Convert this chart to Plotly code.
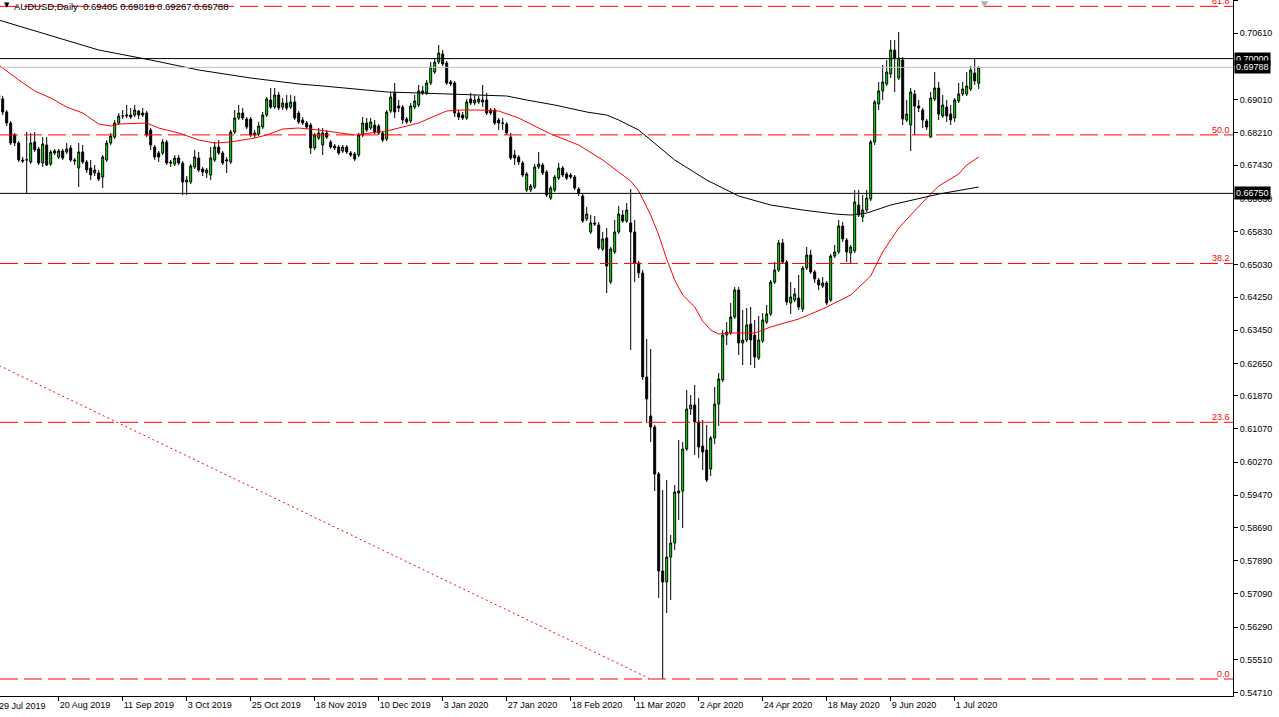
import plotly.graph_objects as go

# ---------------- data (AUDUSD daily, bar index 0 = 29 Jul 2019) ----------------
bar_index = list(range(1, 247))

opens = [
0.69122,0.69026,0.68712,0.68447,0.68157,0.67965,0.67555,0.67555,0.67507,0.67989,
0.67820,0.67483,0.67916,0.67459,0.67772,0.67627,0.67772,0.67748,0.67844,0.67555,
0.67362,0.67748,0.67507,0.67362,0.67242,0.67242,0.67145,0.67555,0.67965,0.68109,
0.68447,0.68615,0.68615,0.68639,0.68639,0.68736,0.68688,0.68688,0.68278,0.67868,
0.67724,0.67724,0.67989,0.67507,0.67459,0.67603,0.67483,0.67024,0.67024,0.67386,
0.67603,0.67338,0.67242,0.67193,0.67555,0.67868,0.67724,0.67531,0.67507,0.68230,
0.68567,0.68688,0.68543,0.68543,0.68157,0.68182,0.68350,0.68639,0.69002,0.68832,
0.69122,0.68832,0.68930,0.68832,0.68954,0.68688,0.68519,0.68447,0.68398,0.67844,
0.68085,0.67916,0.68206,0.67989,0.67892,0.67868,0.67772,0.67868,0.67724,0.67700,
0.67675,0.68157,0.68447,0.68326,0.68398,0.68374,0.68206,0.68061,0.68736,0.69171,
0.68857,0.68832,0.68543,0.68495,0.68832,0.68881,0.69219,0.69171,0.69412,0.69677,
0.69918,0.70111,0.69894,0.69436,0.69412,0.68688,0.68639,0.68567,0.69026,0.68930,
0.68954,0.69002,0.69002,0.68760,0.68760,0.68519,0.68447,0.68423,0.68109,0.67675,
0.67627,0.67483,0.66831,0.66831,0.66903,0.67386,0.67434,0.67266,0.66638,0.66831,
0.67121,0.67362,0.67217,0.67193,0.67145,0.66855,0.66686,0.66132,0.65819,0.66036,
0.65988,0.65409,0.65674,0.64613,0.65337,0.65819,0.66228,0.66084,0.66036,0.65819,
0.65071,0.64830,0.62322,0.61381,0.61116,0.59983,0.57644,0.57379,0.57981,0.58319,
0.59525,0.59573,0.60586,0.61550,0.61646,0.61237,0.60658,0.60562,0.60103,0.60851,
0.61671,0.62250,0.63334,0.63383,0.63769,0.64420,0.63141,0.63214,0.63600,0.63334,
0.62780,0.63190,0.63648,0.63841,0.64613,0.64902,0.65554,0.65095,0.64107,0.64179,
0.64227,0.63962,0.64950,0.65264,0.64854,0.64661,0.64516,0.64589,0.64179,0.65240,
0.65337,0.65963,0.65626,0.65313,0.65361,0.66469,0.66180,0.66349,0.66614,0.67989,
0.68906,0.69219,0.69388,0.69629,0.70207,0.69532,0.69966,0.68519,0.68398,0.69147,
0.68857,0.68760,0.68495,0.68109,0.69026,0.69291,0.68615,0.68832,0.68664,0.68567,
0.68978,0.69147,0.69147,0.69267,0.69653,0.69405]

highs = [
0.69195,0.69098,0.68760,0.68495,0.68206,0.68013,0.67627,0.68230,0.68206,0.68230,
0.67868,0.68109,0.68109,0.67796,0.67820,0.67820,0.67820,0.67965,0.67916,0.67603,
0.67965,0.67916,0.67555,0.67555,0.67434,0.67314,0.67675,0.68037,0.68206,0.68519,
0.68688,0.68760,0.68881,0.68808,0.68881,0.68760,0.68808,0.68736,0.68326,0.67916,
0.67772,0.68061,0.68037,0.67555,0.67675,0.67675,0.67531,0.67169,0.67459,0.67796,
0.67748,0.67386,0.67362,0.67868,0.67989,0.68037,0.67772,0.67627,0.68278,0.68760,
0.68881,0.68808,0.68591,0.68591,0.68278,0.68471,0.68712,0.69074,0.69291,0.69291,
0.69195,0.69050,0.69122,0.69122,0.69098,0.68736,0.68591,0.68495,0.68447,0.68206,
0.68326,0.68326,0.68278,0.68037,0.67941,0.67916,0.67916,0.67916,0.67772,0.67748,
0.68206,0.68591,0.68567,0.68567,0.68519,0.68423,0.68254,0.68760,0.69195,0.69412,
0.69002,0.68881,0.68591,0.68930,0.69122,0.69364,0.69340,0.69484,0.69918,0.70014,
0.70328,0.70207,0.69942,0.69484,0.69460,0.68760,0.68712,0.69026,0.69171,0.69122,
0.69098,0.69364,0.69171,0.68808,0.68808,0.68567,0.68567,0.68471,0.68206,0.67796,
0.67675,0.67531,0.67266,0.66976,0.67459,0.67748,0.67483,0.67314,0.66927,0.67193,
0.67483,0.67410,0.67266,0.67242,0.67193,0.66903,0.66734,0.66421,0.66228,0.66204,
0.66060,0.65819,0.65915,0.65457,0.66108,0.66445,0.66349,0.66518,0.66855,0.66108,
0.65119,0.64902,0.63238,0.62997,0.61165,0.60031,0.59597,0.59838,0.58512,0.59718,
0.60803,0.60755,0.62009,0.61888,0.62129,0.61815,0.61285,0.61165,0.60899,0.62081,
0.62419,0.63455,0.63648,0.64107,0.64492,0.64492,0.63938,0.63986,0.64010,0.63697,
0.63793,0.63865,0.64058,0.64661,0.65095,0.65626,0.65650,0.65143,0.64613,0.64468,
0.64782,0.64998,0.65457,0.65385,0.64902,0.64709,0.64733,0.64637,0.65289,0.65505,
0.66108,0.66060,0.65674,0.65505,0.66831,0.66831,0.66710,0.66831,0.68037,0.69002,
0.69436,0.69846,0.69966,0.70448,0.70448,0.70642,0.70038,0.69002,0.69291,0.69243,
0.69002,0.68808,0.68543,0.69195,0.69677,0.69436,0.69122,0.69002,0.68881,0.69050,
0.69412,0.69436,0.69677,0.69821,0.70014,0.69818]

lows = [
0.68906,0.68639,0.68374,0.67916,0.67892,0.67507,0.67483,0.66759,0.67459,0.67748,
0.67434,0.67386,0.67410,0.67410,0.67675,0.67579,0.67555,0.67700,0.67507,0.67434,
0.66903,0.67459,0.67242,0.67072,0.67169,0.67048,0.66879,0.67507,0.67916,0.68061,
0.68398,0.68543,0.68567,0.68543,0.68591,0.68543,0.68591,0.68109,0.67796,0.67555,
0.67507,0.67675,0.67434,0.67386,0.67410,0.67434,0.66710,0.66710,0.66976,0.67338,
0.67266,0.67169,0.67121,0.67072,0.67507,0.67675,0.67434,0.67242,0.67459,0.68182,
0.68519,0.68519,0.68302,0.68109,0.68085,0.68133,0.68302,0.68591,0.68784,0.68784,
0.68760,0.68760,0.68760,0.68784,0.68519,0.68423,0.68398,0.68302,0.67700,0.67796,
0.68037,0.67675,0.68061,0.67820,0.67796,0.67675,0.67724,0.67700,0.67627,0.67531,
0.67627,0.68109,0.68230,0.68278,0.68182,0.68157,0.67989,0.68013,0.68688,0.68567,
0.68712,0.68423,0.68423,0.68447,0.68784,0.68832,0.69122,0.69122,0.69364,0.69629,
0.69870,0.69821,0.69364,0.69340,0.68591,0.68519,0.68519,0.68519,0.68881,0.68881,
0.68906,0.68832,0.68639,0.68639,0.68398,0.68278,0.68278,0.68157,0.67555,0.67434,
0.67434,0.67145,0.66783,0.66783,0.66855,0.67338,0.67193,0.66662,0.66590,0.66783,
0.67072,0.67145,0.67072,0.67097,0.66831,0.66686,0.66036,0.66084,0.65771,0.65963,
0.65385,0.65361,0.64348,0.64565,0.65289,0.65771,0.66036,0.66036,0.62973,0.64613,
0.64709,0.62250,0.61213,0.60755,0.59573,0.56993,0.55039,0.56631,0.56945,0.58150,
0.58874,0.58681,0.60538,0.61406,0.60441,0.60369,0.60079,0.59790,0.59935,0.60707,
0.61141,0.62202,0.63093,0.63334,0.63721,0.62852,0.62611,0.63166,0.62611,0.62539,
0.62732,0.63141,0.63600,0.63793,0.64565,0.64854,0.65047,0.64058,0.63841,0.64131,
0.63938,0.63890,0.64902,0.64806,0.64589,0.64420,0.64468,0.64058,0.64131,0.65192,
0.65289,0.65578,0.65095,0.65047,0.65313,0.66180,0.66060,0.66300,0.66566,0.67916,
0.68760,0.69002,0.69340,0.69532,0.69195,0.69484,0.68398,0.68471,0.67772,0.68157,
0.68712,0.68326,0.68278,0.68085,0.68978,0.68519,0.68567,0.68471,0.68398,0.68471,
0.68930,0.69098,0.69098,0.69219,0.69364,0.69267]

closes = [
0.69002,0.68712,0.68447,0.67965,0.67965,0.67555,0.67531,0.67560,0.67965,0.67796,
0.67483,0.67941,0.67434,0.67748,0.67724,0.67772,0.67603,0.67820,0.67555,0.67531,
0.67748,0.67507,0.67314,0.67193,0.67314,0.67097,0.67627,0.67965,0.68133,0.68447,
0.68615,0.68620,0.68639,0.68591,0.68760,0.68639,0.68639,0.68157,0.67916,0.67627,
0.67627,0.67989,0.67483,0.67483,0.67603,0.67483,0.67024,0.67072,0.67410,0.67627,
0.67314,0.67266,0.67314,0.67603,0.67868,0.67724,0.67483,0.67555,0.68230,0.68567,
0.68688,0.68567,0.68350,0.68157,0.68206,0.68374,0.68639,0.69026,0.68832,0.69122,
0.68808,0.68930,0.68808,0.68954,0.68567,0.68471,0.68447,0.68350,0.67844,0.68157,
0.68206,0.68206,0.68109,0.67868,0.67844,0.67724,0.67868,0.67748,0.67675,0.67579,
0.68157,0.68447,0.68278,0.68471,0.68230,0.68206,0.68037,0.68712,0.69074,0.68712,
0.68808,0.68519,0.68471,0.68857,0.68978,0.69219,0.69171,0.69412,0.69797,0.69918,
0.70135,0.69870,0.69412,0.69388,0.68688,0.68591,0.68567,0.68954,0.68930,0.69002,
0.69026,0.68954,0.68688,0.68688,0.68447,0.68447,0.68440,0.68206,0.67603,0.67603,
0.67507,0.67193,0.67217,0.66927,0.67386,0.67459,0.67242,0.66710,0.66879,0.67145,
0.67362,0.67193,0.67121,0.67145,0.66879,0.66759,0.66084,0.66252,0.66036,0.66012,
0.65433,0.65650,0.64998,0.65409,0.65819,0.66252,0.66084,0.66349,0.65819,0.65071,
0.64830,0.62322,0.61791,0.61116,0.59983,0.57644,0.57379,0.57981,0.58319,0.59549,
0.59573,0.60586,0.61550,0.61646,0.61237,0.60634,0.60514,0.59838,0.60851,0.61671,
0.62274,0.63334,0.63407,0.63769,0.64420,0.63141,0.63214,0.63576,0.63214,0.62804,
0.63214,0.63697,0.63841,0.64613,0.64902,0.65554,0.65095,0.64131,0.64251,0.64324,
0.64010,0.64950,0.65264,0.64854,0.64685,0.64541,0.64589,0.64107,0.65240,0.65337,
0.65963,0.65650,0.65337,0.65457,0.66542,0.66228,0.66349,0.66638,0.67989,0.68954,
0.69219,0.69436,0.69677,0.70207,0.70014,0.70014,0.68543,0.68664,0.69195,0.68857,
0.68808,0.68519,0.68350,0.69050,0.69291,0.68664,0.68881,0.68615,0.68519,0.69002,
0.69147,0.69267,0.69340,0.69725,0.69460,0.69788]

red_ma_idx = [1, 6, 10, 14, 18, 22, 26, 29, 31, 35, 38, 41, 46, 51, 55, 59, 65, 68, 72, 76,
              81, 90, 98, 102, 106, 110, 113, 116, 121, 126, 131, 136, 139, 146, 152, 156,
              159, 161, 164, 166, 168, 170, 172, 175, 177, 179, 181, 184, 190, 194, 198,
              201, 204, 207, 211, 214, 219, 222, 226, 231, 233, 236, 241, 243, 246]
red_ma_val = [0.69846, 0.69484, 0.69219, 0.69050, 0.68832, 0.68688, 0.68423, 0.68374, 0.68423,
              0.68447, 0.68447, 0.68326, 0.68206, 0.68037, 0.67965, 0.67989, 0.68085, 0.68157,
              0.68302, 0.68326, 0.68278, 0.68157, 0.68254, 0.68350, 0.68447, 0.68615, 0.68736,
              0.68760, 0.68760, 0.68736, 0.68567, 0.68326, 0.68182, 0.67916, 0.67555, 0.67266,
              0.67048, 0.66807, 0.66228, 0.65746, 0.65168, 0.64661, 0.64299, 0.64010, 0.63672,
              0.63455, 0.63359, 0.63383, 0.63383, 0.63528, 0.63648, 0.63721, 0.63841, 0.63962,
              0.64155, 0.64299, 0.64758, 0.65337, 0.65915, 0.66445, 0.66638, 0.66927, 0.67217,
              0.67434, 0.67627]

black_ma_idx = [1, 14, 26, 39, 51, 64, 76, 82, 98, 106, 114, 123, 128, 133, 140, 148, 153,
                156, 161, 170, 178, 186, 194, 202, 210, 214, 218, 224, 231, 236, 246]
black_ma_val = [0.70931, 0.70545, 0.70207, 0.69966, 0.69725, 0.69532, 0.69388, 0.69340, 0.69195,
                0.69171, 0.69147, 0.69122, 0.69098, 0.69002, 0.68881, 0.68712, 0.68639, 0.68519,
                0.68278, 0.67555, 0.67072, 0.66686, 0.66469, 0.66349, 0.66252, 0.66228, 0.66276,
                0.66469, 0.66614, 0.66734, 0.66903]

trend_idx = [0, 163.5]
trend_val = [0.62650, 0.55060]

fib_labels = ["0.0", "23.6", "38.2", "50.0", "61.8"]
fib_prices = [0.5504, 0.6123, 0.6506, 0.6816, 0.7126]

black_levels = [0.70000, 0.66750]
bid_price = 0.69788

ytick_vals = [0.71390, 0.70610, 0.69010, 0.68210, 0.67430, 0.66630, 0.65830, 0.65030,
              0.64250, 0.63450, 0.62650, 0.61870, 0.61070, 0.60270, 0.59470, 0.58690,
              0.57890, 0.57090, 0.56290, 0.55510, 0.54710]

xtick_idx = [16, 32, 48, 64, 80, 96, 112, 128, 144, 160, 176, 192, 208, 224, 240]
xtick_labels = ["20 Aug 2019", "11 Sep 2019", "3 Oct 2019", "25 Oct 2019", "18 Nov 2019",
                "10 Dec 2019", "3 Jan 2020", "27 Jan 2020", "18 Feb 2020", "11 Mar 2020",
                "2 Apr 2020", "24 Apr 2020", "18 May 2020", "9 Jun 2020", "1 Jul 2020"]
first_xlabel = "29 Jul 2019"

title_text = "AUDUSD,Daily  0.69405 0.69818 0.69267 0.69788"

# ---------------- figure ----------------
FONT = "Liberation Sans"
fig = go.Figure()

fig.add_trace(go.Candlestick(
    x=bar_index, open=opens, high=highs, low=lows, close=closes,
    increasing=dict(line=dict(color="black", width=1), fillcolor="#00ff00"),
    decreasing=dict(line=dict(color="black", width=1), fillcolor="black"),
    whiskerwidth=0, hoverinfo="skip", showlegend=False))

fig.add_trace(go.Scatter(x=red_ma_idx, y=red_ma_val, mode="lines",
                         line=dict(color="#ff0000", width=1), hoverinfo="skip", showlegend=False))
fig.add_trace(go.Scatter(x=black_ma_idx, y=black_ma_val, mode="lines",
                         line=dict(color="black", width=1), hoverinfo="skip", showlegend=False))
fig.add_trace(go.Scatter(x=trend_idx, y=trend_val, mode="lines",
                         line=dict(color="#ff0000", width=1, dash="2px,3px"),
                         hoverinfo="skip", showlegend=False))

shapes = []
for p in fib_prices:
    shapes.append(dict(type="line", xref="paper", x0=0, x1=1, yref="y", y0=p, y1=p,
                       line=dict(color="#ff0000", width=1, dash="18px,6px"), layer="above"))
for p in black_levels:
    shapes.append(dict(type="line", xref="paper", x0=0, x1=1, yref="y", y0=p, y1=p,
                       line=dict(color="black", width=1), layer="above"))
shapes.append(dict(type="line", xref="paper", x0=0, x1=1, yref="y", y0=bid_price, y1=bid_price,
                   line=dict(color="#c0c0c0", width=1), layer="above"))

annotations = []
for lab, p in zip(fib_labels, fib_prices):
    annotations.append(dict(text=lab, xref="paper", x=1, xanchor="right", xshift=-1,
                            yref="y", y=p, yanchor="bottom", yshift=-2, showarrow=False,
                            font=dict(family=FONT, size=9, color="#ff0000")))
for p in [black_levels[0], bid_price, black_levels[1]]:
    annotations.append(dict(text="%.5f" % p, xref="paper", x=1, xanchor="left", xshift=1,
                            yref="y", y=p, yanchor="middle", showarrow=False,
                            bgcolor="black", borderpad=1,
                            font=dict(family=FONT, size=9, color="white")))
annotations.append(dict(text="▼", xref="paper", x=0, xanchor="left", xshift=2,
                        yref="paper", y=1, yanchor="top", yshift=1, showarrow=False,
                        font=dict(family="DejaVu Sans", size=7, color="black")))
annotations.append(dict(text=title_text, xref="paper", x=0, xanchor="left", xshift=12,
                        yref="paper", y=1, yanchor="top", yshift=1, showarrow=False,
                        font=dict(family=FONT, size=9.5, color="black")))
annotations.append(dict(text="▼", xref="paper", x=985 / 1233, xanchor="center",
                        yref="paper", y=1, yanchor="top", yshift=3, showarrow=False,
                        font=dict(family="DejaVu Sans", size=9, color="#b0b0b0")))
annotations.append(dict(text=first_xlabel, xref="paper", x=0, xanchor="left", xshift=-3,
                        yref="paper", y=0, yanchor="top", yshift=-3, showarrow=False,
                        font=dict(family=FONT, size=9, color="black")))

fig.update_layout(
    width=1279, height=717, autosize=False,
    margin=dict(l=0, r=46, t=0, b=21, pad=0),
    paper_bgcolor="white", plot_bgcolor="white",
    shapes=shapes, annotations=annotations, showlegend=False,
    xaxis=dict(range=[1.325, 309.575], showgrid=False, zeroline=False, automargin=False,
               showline=True, linecolor="black", linewidth=1,
               ticks="outside", ticklen=4, tickcolor="black",
               tickvals=xtick_idx, ticktext=xtick_labels,
               ticklabelposition="outside right",
               tickfont=dict(family=FONT, size=9, color="black"),
               rangeslider=dict(visible=False), fixedrange=True),
    yaxis=dict(side="right", range=[0.54630, 0.71413], showgrid=False, zeroline=False,
               automargin=False,
               showline=True, linecolor="black", linewidth=1,
               ticks="outside", ticklen=4, tickcolor="black",
               tickvals=ytick_vals, ticktext=["%.5f" % v for v in ytick_vals],
               tickfont=dict(family=FONT, size=9, color="black"), fixedrange=True),
)

fig.write_html("out.html", config={"displayModeBar": False},
               post_script="document.body.style.margin='0px';document.body.style.overflow='hidden';")
